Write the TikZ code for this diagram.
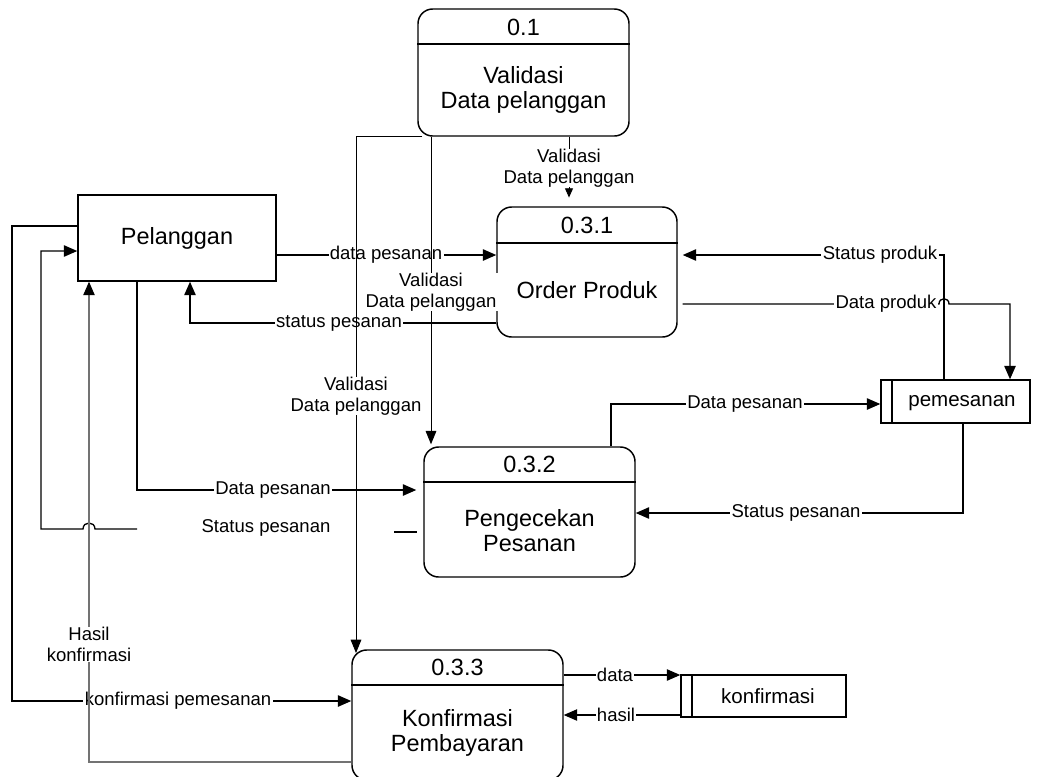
\documentclass[tikz,border=0pt]{standalone}
\usepackage{fontspec}
\setmainfont{Liberation Sans}
\usetikzlibrary{arrows.meta}
\tikzset{
  proc/.style={draw,line width=1.1pt,rounded corners=11pt,inner sep=0pt},
  ent/.style={draw,line width=1.1pt,inner sep=0pt},
  btxt/.style={font=\fontsize{17.6}{18.75}\selectfont,align=center,inner sep=0pt},
  stxt/.style={font=\fontsize{15.4}{18}\selectfont,inner sep=0pt},
  lbl/.style={font=\fontsize{13.9}{15.75}\selectfont,align=center,fill=white,inner xsep=1pt,inner ysep=0pt},
  flow/.style={line width=1pt,-{Triangle[length=10pt,width=8.5pt]}},
  thinflow/.style={line width=0.7pt,-{Triangle[length=10pt,width=8pt]}},
  smallflow/.style={line width=0.7pt,-{Triangle[length=7pt,width=6pt]}},
  grayflow/.style={line width=0.8pt,draw=black!55,-{Triangle[length=10pt,width=8.5pt,fill=black,color=black]}},
  lineonly/.style={line width=1pt},
}
\begin{document}
\begin{tikzpicture}[x=0.75pt,y=-0.75pt]
\useasboundingbox (0,0) rectangle (1042,776);

% ---------- boxes ----------
\node[proc,minimum width=158.25pt,minimum height=95.25pt] (p01) at (523.5,72.5) {};
\draw[line width=1.1pt] (p01.west |- 0,44) -- (p01.east |- 0,44);
\node[btxt] (n01) at (523.5,27) {0.1};
\node[btxt] (t01) at (523.5,90) {Validasi\\Data pelanggan};

\node[ent,minimum width=148.5pt,minimum height=64.5pt,btxt] (pel) at (177,238) {Pelanggan};

\node[proc,minimum width=135pt,minimum height=97.5pt] (p031) at (587,272) {};
\draw[line width=1.1pt] (p031.west |- 0,243) -- (p031.east |- 0,243);
\node[btxt] (n031) at (587,225) {0.3.1};
\node[btxt] (t031) at (587,290) {Order Produk};

\node[proc,minimum width=158.25pt,minimum height=97.5pt] (p032) at (529.5,512) {};
\draw[line width=1.1pt] (p032.west |- 0,482) -- (p032.east |- 0,482);
\node[btxt] (n032) at (529.5,464) {0.3.2};
\node[btxt] (t032) at (529.5,531) {Pengecekan\\Pesanan};

\node[proc,minimum width=158.25pt,minimum height=97.5pt] (p033) at (457.5,715) {};
\draw[line width=1.1pt] (p033.west |- 0,685) -- (p033.east |- 0,685);
\node[btxt] (n033) at (457.5,667) {0.3.3};
\node[btxt] (t033) at (457.5,733) {Konfirmasi\\Pembayaran};

\node[ent,minimum width=111.75pt,minimum height=32.25pt] (pem) at (955.5,401.5) {};
\draw[line width=1.1pt] (892,0 |- pem.north) -- (892,0 |- pem.south);
\node[stxt] (pemt) at (962,403) {pemesanan};

\node[ent,minimum width=123.75pt,minimum height=31.5pt] (konf) at (763.5,696) {};
\draw[line width=1.1pt] (692,0 |- konf.north) -- (692,0 |- konf.south);
\node[stxt] (konft) at (768,696) {konfirmasi};

% ---------- connectors ----------
\draw[flow] (pel.east |- 0,255) -- (p031.west |- 0,255);
\node[lbl] (l1) at (386,255) {data pesanan};

\draw[flow] (p031.west |- 0,323) -- (190,323) -- (190,0 |- pel.south);
\node[lbl] (l2) at (339,323) {status pesanan};

\draw[flow,shorten >=3.75pt] (944,0 |- pem.north) -- (944,255) -- (p031.east |- 0,255);
\node[lbl] (l3) at (880,255) {Status produk};

\draw[flow,shorten <=3.75pt] (p031.east |- 0,304) -- (939,304) .. controls (939,297) and (949,297) .. (949,304) -- (1010,304) -- (1010,0 |- pem.north);
\node[lbl] (l4) at (886,304) {Data produk};

\draw[flow] (611,0 |- p032.north) -- (611,404) -- (pem.west |- 0,404);
\node[lbl] (l5) at (745,404) {Data pesanan};

\draw[flow] (963,0 |- pem.south) -- (963,513) -- (p032.east |- 0,513);
\node[lbl] (l6) at (796,513) {Status pesanan};

\draw[flow,shorten >=5.25pt] (137,0 |- pel.south) -- (137,490) -- (p032.west |- 0,490);
\node[lbl] (l7) at (273,490) {Data pesanan};

\coordinate (sp1) at (137,529);
\coordinate (sp2) at (394,532);
\draw[flow] (sp1) -- (95,529) .. controls (95,521) and (83,521) .. (83,529) -- (41,529) -- (41,251) -- (pel.west |- 0,251);
\draw[lineonly,shorten >=4.5pt] (sp2) -- (p032.west |- sp2);
\node[lbl] (l8) at (266,528) {Status pesanan};

\draw[flow] (pel.west |- 0,226) -- (12,226) -- (12,701) -- (p033.west |- 0,701);
\node[lbl] (l9) at (178,701) {konfirmasi pemesanan};

\draw[flow,line width=0.8pt] (p033.east |- 0,675) -- (konf.west |- 0,675);
\node[lbl] (l10) at (615,675) {data};

\draw[flow,line width=0.8pt] (konf.west |- 0,715) -- (p033.east |- 0,715);
\node[lbl] (l11) at (616,715) {hasil};

% ---------- thin lines from 0.1 ----------
\draw[smallflow,shorten >=6.5pt] (569,0 |- p01.south) -- (569,0 |- p031.north);
\node[lbl] (l12) at (569,168) {Validasi\\Data pelanggan};

\draw[thinflow,shorten >=1.5pt] (431,0 |- p01.south) -- (431,0 |- p032.north);
\node[lbl] (l13) at (431,292) {Validasi\\Data pelanggan};

\coordinate (v3) at (356,653);
\draw[thinflow] ([xshift=3.75pt]p01.south west) -- (356,0 |- p01.south) -- (v3);
\node[lbl] (l14) at (356,396) {Validasi\\Data pelanggan};

% ---------- hasil konfirmasi ----------
\draw[grayflow] (p033.west |- 0,762) -- (89,762) -- (89,0 |- pel.south);
\node[lbl] (l15) at (89,644.5) {Hasil\\konfirmasi};

\end{tikzpicture}
\end{document}
